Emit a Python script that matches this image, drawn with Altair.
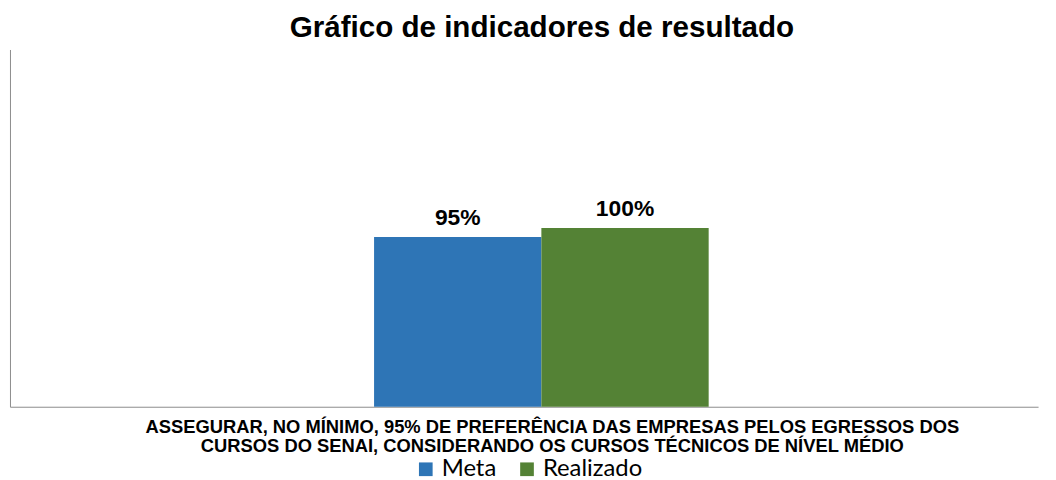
import altair as alt
import pandas as pd

series = ["Meta", "Realizado"]
values = [0.95, 1.00]
value_labels = ["95%", "100%"]
category_lines = [
    "ASSEGURAR, NO MÍNIMO, 95% DE PREFERÊNCIA DAS EMPRESAS PELOS EGRESSOS DOS",
    "CURSOS DO SENAI, CONSIDERANDO OS CURSOS TÉCNICOS DE NÍVEL MÉDIO",
]
category = " ".join(category_lines)
colors = ["#2E75B6", "#548235"]
title_text = "Gráfico de indicadores de resultado"

df = pd.DataFrame({"cat": [category] * 2, "serie": series, "valor": values, "rotulo": value_labels})

x = alt.X(
    "cat:N",
    scale=alt.Scale(paddingInner=0.035, paddingOuter=1, align=0.525),
    axis=alt.Axis(
        title=category_lines,
        labels=False,
        ticks=False,
        domainColor="#8c8c8c",
        titleFont="Liberation Sans",
        titleFontSize=18.5,
        titleFontWeight="bold",
        titleColor="#000000",
        titleX=546,
        titleY=26,
        titleAlign="center",
        titleBaseline="alphabetic",
        titleLineHeight=19,
    ),
)
xo = alt.XOffset("serie:N", scale=alt.Scale(domain=series, paddingInner=0, paddingOuter=0))
y = alt.Y(
    "valor:Q",
    scale=alt.Scale(domain=[0, 2.0], nice=False),
    axis=alt.Axis(title=None, labels=False, ticks=False, grid=False, domainColor="#8c8c8c"),
)

bars = alt.Chart(df).mark_bar().encode(
    x=x,
    xOffset=xo,
    y=y,
    color=alt.Color(
        "serie:N",
        scale=alt.Scale(domain=series, range=colors),
        legend=alt.Legend(
            title=None,
            orient="none",
            direction="horizontal",
            legendX=407,
            legendY=411,
            padding=0,
            symbolType="square",
            symbolSize=190,
            symbolStrokeWidth=0,
            labelFont="Lato",
            labelFontSize=24,
            labelColor="#000000",
            labelOffset=4,
            columnPadding=18,
        ),
    ),
)

labels = alt.Chart(df).mark_text(
    dy=-12, baseline="alphabetic", font="Liberation Sans", fontWeight="bold", fontSize=23, color="#000000"
).encode(x=x, xOffset=xo, y=y, text="rotulo:N")

chart = (
    alt.layer(bars, labels)
    .properties(
        width=1036,
        height=360,
        padding={"left": 2, "top": 40, "right": 10, "bottom": 72},
        autosize=alt.AutoSizeParams(type="none"),
        title=alt.TitleParams(
            title_text,
            font="Liberation Sans",
            fontSize=29.8,
            fontWeight="bold",
            color="#000000",
            anchor="middle",
            dx=18,
            offset=7,
        ),
    )
    .configure(background="white")
    .configure_view(stroke=None)
)

chart.save("out.html", embed_options={"renderer": "svg", "actions": False})
